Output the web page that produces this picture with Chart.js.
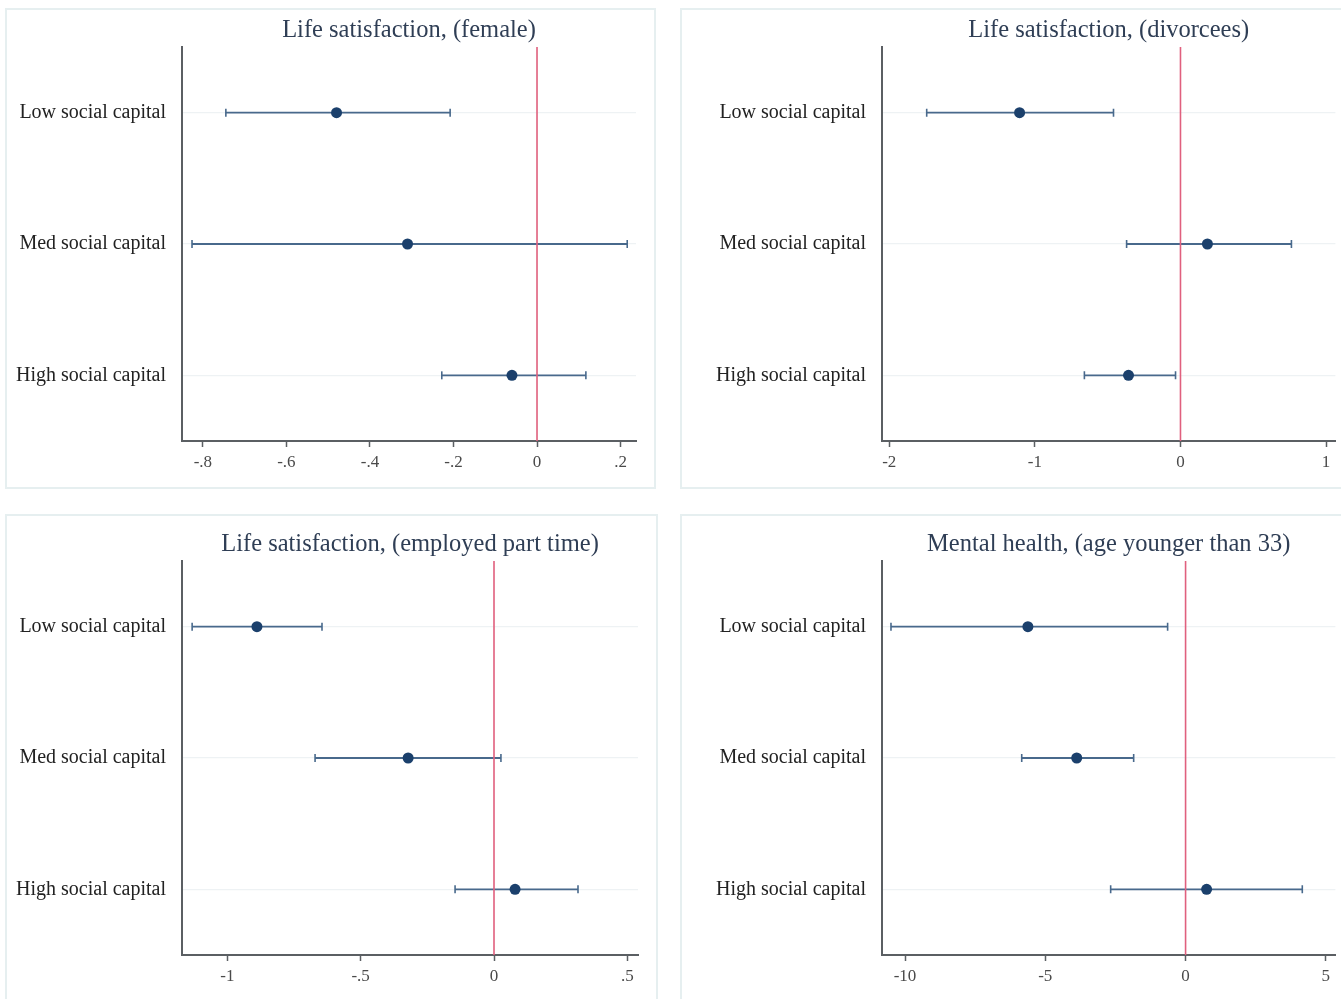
<!DOCTYPE html>
<html>
<head>
<meta charset="utf-8">
<script src="https://cdn.jsdelivr.net/npm/chart.js@4.4.1/dist/chart.umd.min.js"></script>
<style>
  html, body { margin: 0; padding: 0; background: #ffffff; overflow: hidden; }
  body { width: 1341px; height: 999px; position: relative; }
  .frame { position: absolute; border: 2px solid #e6eff0; box-sizing: border-box; }
  .panel { position: absolute; }
  .panel canvas { display: block; }
</style>
</head>
<body>
<div class="frame" style="left:5px; top:8px; width:651px; height:481px;"></div>
<div class="frame" style="left:680px; top:8px; width:680px; height:481px;"></div>
<div class="frame" style="left:5px; top:514px; width:653px; height:500px;"></div>
<div class="frame" style="left:680px; top:514px; width:680px; height:500px;"></div>

<div class="panel" style="left:0px; top:0px; width:660px; height:485px;"><canvas id="c1"></canvas></div>
<div class="panel" style="left:700px; top:0px; width:641px; height:485px;"><canvas id="c2"></canvas></div>
<div class="panel" style="left:0px; top:514px; width:660px; height:485px;"><canvas id="c3"></canvas></div>
<div class="panel" style="left:700px; top:514px; width:641px; height:485px;"><canvas id="c4"></canvas></div>

<script>
// Row labels shared by every panel (top to bottom)
const rowLabels = ['Low social capital', 'Med social capital', 'High social capital'];

// Life satisfaction, female
const femaleEst = [-0.48, -0.31, -0.06];
const femaleLo  = [-0.745, -0.826, -0.228];
const femaleHi  = [-0.208, 0.216, 0.117];
const femaleTicks = [-0.8, -0.6, -0.4, -0.2, 0, 0.2];
const femaleTickLabels = ['-.8', '-.6', '-.4', '-.2', '0', '.2'];
const femaleRange = [-0.85, 0.237];

// Life satisfaction, divorcees
const divorceEst = [-1.105, 0.185, -0.357];
const divorceLo  = [-1.743, -0.37, -0.66];
const divorceHi  = [-0.46, 0.762, -0.034];
const divorceTicks = [-2, -1, 0, 1];
const divorceTickLabels = ['-2', '-1', '0', '1'];
const divorceRange = [-2.05, 1.064];

// Life satisfaction, employed part time
const partTimeEst = [-0.889, -0.322, 0.079];
const partTimeLo  = [-1.132, -0.671, -0.146];
const partTimeHi  = [-0.645, 0.026, 0.315];
const partTimeTicks = [-1, -0.5, 0, 0.5];
const partTimeTickLabels = ['-1', '-.5', '0', '.5'];
const partTimeRange = [-1.17, 0.54];

// Mental health, age younger than 33
const youngEst = [-5.62, -3.88, 0.75];
const youngLo  = [-10.5, -5.84, -2.67];
const youngHi  = [-0.64, -1.85, 4.16];
const youngTicks = [-10, -5, 0, 5];
const youngTickLabels = ['-10', '-5', '0', '5'];
const youngRange = [-10.82, 5.34];

const SERIF = '"Liberation Serif", "DejaVu Serif", serif';
const AXIS_COLOR = '#5b5f63';
const CI_COLOR = '#48698c';
const DOT_COLOR = '#1b406c';
const ZERO_COLOR = '#e0607e';

function coefPlot(id, title, est, lo, hi, ticks, tickLabels, range, rightPad) {
  const datasets = [];
  // confidence intervals, capped at both ends
  est.forEach((_, i) => {
    datasets.push({
      data: [{ x: lo[i], y: i + 1 }, { x: hi[i], y: i + 1 }],
      showLine: true,
      borderColor: CI_COLOR,
      borderWidth: 1.8,
      pointStyle: 'line',
      rotation: 90,
      pointRadius: 4,
      pointBorderColor: CI_COLOR,
      pointBorderWidth: 1.6,
      order: 3
    });
  });
  // reference line at zero
  datasets.push({
    data: [{ x: 0, y: 0.5 }, { x: 0, y: 3.5 }],
    showLine: true,
    borderColor: ZERO_COLOR,
    borderWidth: 1.6,
    pointRadius: 0,
    order: 2
  });
  // point estimates
  datasets.push({
    data: est.map((v, i) => ({ x: v, y: i + 1 })),
    showLine: false,
    pointStyle: 'circle',
    pointRadius: 5.5,
    pointBackgroundColor: DOT_COLOR,
    pointBorderColor: DOT_COLOR,
    pointBorderWidth: 0,
    order: 1
  });

  new Chart(document.getElementById(id), {
    type: 'scatter',
    data: { datasets },
    options: {
      responsive: true,
      maintainAspectRatio: false,
      animation: false,
      events: [],
      layout: { padding: { left: 0, top: 0, right: rightPad, bottom: 0 } },
      plugins: {
        legend: { display: false },
        tooltip: { enabled: false },
        title: {
          display: true,
          text: title,
          fullSize: false,
          color: '#2f3e55',
          font: { family: SERIF, size: 24.5, weight: 'normal', lineHeight: 1.2 },
          padding: { top: 16.3, bottom: 1.3 }
        }
      },
      scales: {
        x: {
          type: 'linear',
          min: range[0],
          max: range[1],
          afterBuildTicks: (s) => { s.ticks = ticks.map(v => ({ value: v })); },
          afterFit: (s) => { s.height = 44; },
          ticks: {
            color: '#4a4a4a',
            font: { family: SERIF, size: 17 },
            padding: 5,
            maxRotation: 0,
            autoSkip: false,
            callback: (v, i) => tickLabels[i]
          },
          grid: {
            drawOnChartArea: false,
            drawTicks: true,
            tickLength: 6,
            tickColor: AXIS_COLOR,
            tickWidth: 1.5
          },
          border: { display: true, color: AXIS_COLOR, width: 2 }
        },
        y: {
          type: 'linear',
          min: 0.5,
          max: 3.5,
          reverse: true,
          afterBuildTicks: (s) => { s.ticks = rowLabels.map((_, i) => ({ value: i + 1 })); },
          afterFit: (s) => { s.width = 182; },
          ticks: {
            color: '#222',
            font: { family: SERIF, size: 20 },
            padding: 16,
            autoSkip: false,
            callback: (v) => rowLabels[Math.round(v) - 1]
          },
          grid: {
            drawTicks: false,
            color: '#eef2f4',
            lineWidth: 1.2
          },
          border: { display: true, color: AXIS_COLOR, width: 2 }
        }
      }
    }
  });
}

coefPlot('c1', 'Life satisfaction, (female)', femaleEst, femaleLo, femaleHi,
  femaleTicks, femaleTickLabels, femaleRange, 24);
coefPlot('c2', 'Life satisfaction, (divorcees)', divorceEst, divorceLo, divorceHi,
  divorceTicks, divorceTickLabels, divorceRange, 5);
coefPlot('c3', 'Life satisfaction, (employed part time)', partTimeEst, partTimeLo, partTimeHi,
  partTimeTicks, partTimeTickLabels, partTimeRange, 22);
coefPlot('c4', 'Mental health, (age younger than 33)', youngEst, youngLo, youngHi,
  youngTicks, youngTickLabels, youngRange, 5);
</script>
</body>
</html>
